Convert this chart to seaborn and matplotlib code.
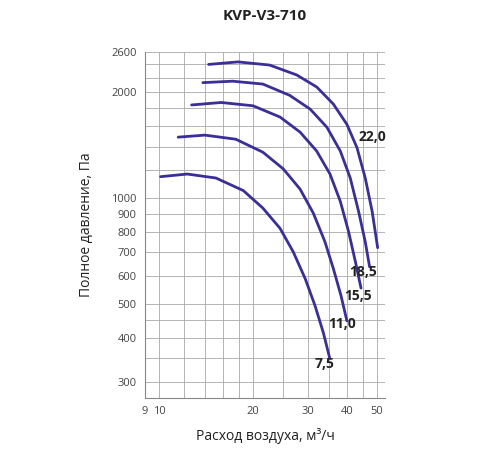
import matplotlib
matplotlib.use('Agg')
import matplotlib.pyplot as plt
import seaborn as sns
import pandas as pd
from matplotlib.ticker import FixedLocator, NullLocator, FixedFormatter

sns.set_style('white')
plt.rcParams['font.family'] = ['Open Sans', 'DejaVu Sans']

# ========== data: fan curves (flow, pressure) ==========
x_22 = [14.4, 17.9, 22.6, 27.6, 32.0, 36.2, 40.0, 43.1, 45.8, 48.2, 50.2]
y_22 = [2400, 2440, 2390, 2240, 2070, 1850, 1620, 1390, 1140, 916, 722]
x_185 = [13.8, 17.2, 21.5, 26.2, 30.5, 34.5, 38.1, 41.0, 43.6, 45.8, 47.3]
y_185 = [2130, 2150, 2110, 1960, 1790, 1590, 1360, 1140, 916, 751, 637]
x_155 = [12.7, 15.8, 20.0, 24.4, 28.3, 32.0, 35.3, 38.1, 40.5, 42.6, 44.4]
y_155 = [1840, 1870, 1830, 1700, 1540, 1360, 1170, 978, 802, 658, 554]
x_11 = [11.5, 14.0, 17.6, 21.5, 25.0, 28.3, 31.2, 34.0, 36.2, 38.3, 40.0]
y_11 = [1490, 1510, 1470, 1350, 1210, 1060, 906, 751, 629, 527, 447]
x_75 = [10.1, 12.3, 15.2, 18.6, 21.5, 24.4, 26.9, 29.4, 31.6, 33.6, 35.2]
y_75 = [1150, 1170, 1140, 1050, 936, 820, 703, 589, 494, 414, 351]
labels = ['22,0', '18,5', '15,5', '11,0', '7,5']
label_x = [48.3, 45.2, 43.5, 38.7, 34.0]
label_y = [1487, 617, 527, 437, 336]

x_ticks = [9, 10, 20, 30, 40, 50]
y_ticks = [300, 400, 500, 600, 700, 800, 900, 1000, 2000, 2600]
x_grid = [10, 12, 14, 16, 18, 20, 25, 30, 35, 40, 45, 50]
y_grid = [300, 350, 400, 450, 500, 600, 700, 800, 900, 1000, 1200, 1400,
          1600, 1800, 2000, 2200, 2400, 2600]

curves = [(x_22, y_22), (x_185, y_185), (x_155, y_155), (x_11, y_11), (x_75, y_75)]
df = pd.concat([pd.DataFrame({'flow': xs, 'p': ys, 'kw': lab})
                for (xs, ys), lab in zip(curves, labels)])

fig = plt.figure(figsize=(5, 4.5), dpi=100)
ax = fig.add_axes([0.29, 0.116, 0.48, 0.768])
ax.set_xscale('log')
ax.set_yscale('log')
ax.set_xlim(9, 53)
ax.set_ylim(270, 2600)

for g in x_grid:
    ax.axvline(g, color='#a8a8a8', lw=0.6, zorder=0)
for g in y_grid:
    ax.axhline(g, color='#a8a8a8', lw=0.6, zorder=0)

sns.lineplot(data=df, x='flow', y='p', units='kw', estimator=None, sort=False,
             color='#3a2f96', lw=2.0, ax=ax)

for lab, lx, ly in zip(labels, label_x, label_y):
    ax.text(lx, ly, lab, fontsize=10, fontweight='bold', color='#222222',
            ha='center', va='center')

ax.xaxis.set_major_locator(FixedLocator(x_ticks))
ax.xaxis.set_major_formatter(FixedFormatter([str(t) for t in x_ticks]))
ax.xaxis.set_minor_locator(NullLocator())
ax.yaxis.set_major_locator(FixedLocator(y_ticks))
ax.yaxis.set_major_formatter(FixedFormatter([str(t) for t in y_ticks]))
ax.yaxis.set_minor_locator(NullLocator())
ax.tick_params(labelsize=8, colors='#444444', length=0, pad=6)
for s in ['top', 'right']:
    ax.spines[s].set_visible(False)
for s in ['left', 'bottom']:
    ax.spines[s].set_color('#888888')
    ax.spines[s].set_linewidth(0.8)

ax.set_xlabel('Расход воздуха, м³/ч', fontsize=10, color='#222222', labelpad=8)
ax.set_ylabel('Полное давление, Па', fontsize=10, color='#222222', labelpad=12)
fig.text(0.53, 0.965, 'KVP-V3-710', ha='center', va='center', fontsize=11,
         fontweight='bold', color='#222222')

fig.savefig('out.png', dpi=100)
